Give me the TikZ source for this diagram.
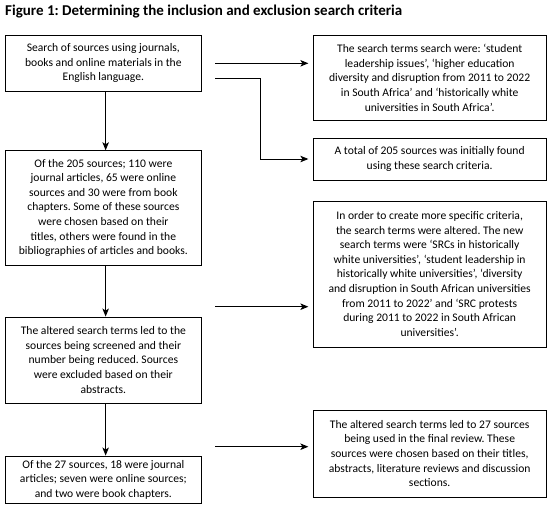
\documentclass[tikz,border=0pt]{standalone}
\usepackage{fontspec}
\setmainfont{Carlito}
\usetikzlibrary{arrows.meta}
\frenchspacing
\begin{document}
\begin{tikzpicture}[x=1pt,y=1pt,
  box/.style={draw=black,line width=0.9pt,align=center,inner sep=0pt,
    font=\fontsize{11.6}{14.6}\selectfont},
  lbox/.style={box,minimum width=196.7pt},
  rbox/.style={box,minimum width=232.7pt},
  arr/.style={draw=black,line width=0.9pt,-{Stealth[length=8pt,width=6.5pt,inset=2pt]}},
  gap/.style={shorten >=4.5pt}]
\useasboundingbox (0,0) rectangle (556,-522);
\node[anchor=base west,inner sep=0pt,font=\bfseries\fontsize{15}{17}\selectfont] (title) at (5,-15)
  {Figure 1: Determining the inclusion and exclusion search criteria};
\node[lbox,minimum height=56.7pt] (L1) at (103.35,-63.35)
  {Search of sources using journals,\\books and online materials in the\\English language.};
\node[lbox,minimum height=114.3pt] (L2) at (103.35,-207.85)
  {Of the 205 sources; 110 were\\journal articles, 65 were online\\sources and 30 were from book\\chapters. Some of these sources\\were chosen based on their\\titles, others were found in the\\bibliographies of articles and books.};
\node[lbox,minimum height=86pt] (L3) at (103.35,-360)
  {The altered search terms led to the\\sources being screened and their\\number being reduced. Sources\\were excluded based on their\\abstracts.};
\node[lbox,minimum height=47pt] (L4) at (103.35,-479.5)
  {Of the 27 sources, 18 were journal\\articles; seven were online sources;\\and two were book chapters.};
\node[rbox,minimum height=85.7pt] (R1) at (429.65,-77.85)
  {The search terms search were: ‘student\\leadership issues’, ‘higher education\\diversity and disruption from 2011 to 2022\\in South Africa’ and ‘historically white\\universities in South Africa’.};
\node[rbox,minimum height=42pt] (R2) at (429.65,-159)
  {A total of 205 sources was initially found\\using these search criteria.};
\node[rbox,minimum height=146pt] (R3) at (429.65,-274)
  {In order to create more specific criteria,\\the search terms were altered. The new\\search terms were ‘SRCs in historically\\white universities’, ‘student leadership in\\historically white universities’, ‘diversity\\and disruption in South African universities\\from 2011 to 2022’ and ‘SRC protests\\during 2011 to 2022 in South African\\universities’.};
\node[rbox,minimum height=87pt] (R4) at (429.65,-453.5)
  {The altered search terms led to 27 sources\\being used in the final review. These\\sources were chosen based on their titles,\\abstracts, literature reviews and discussion\\sections.};
\coordinate (s1) at (215,-63.3);
\coordinate (s2) at (215,-78.3);
\coordinate (e2) at (260.7,-159);
\coordinate (s3) at (215,-306.7);
\coordinate (s4) at (215,-446.7);
\draw[arr] ([xshift=2.3pt]L1.south) -- ([xshift=2.3pt]L2.north);
\draw[arr] ([xshift=2.3pt]L2.south) -- ([xshift=2.3pt]L3.north);
\draw[arr] ([xshift=2.3pt]L3.south) -- ([xshift=2.3pt]L4.north);
\draw[arr,gap] (s1) -- (s1 -| R1.west);
\draw[arr,gap] (s2) -| (e2) -- (R2.west);
\draw[arr,gap] (s3) -- (s3 -| R3.west);
\draw[arr,gap] (s4) -- (s4 -| R4.west);
\end{tikzpicture}
\end{document}
